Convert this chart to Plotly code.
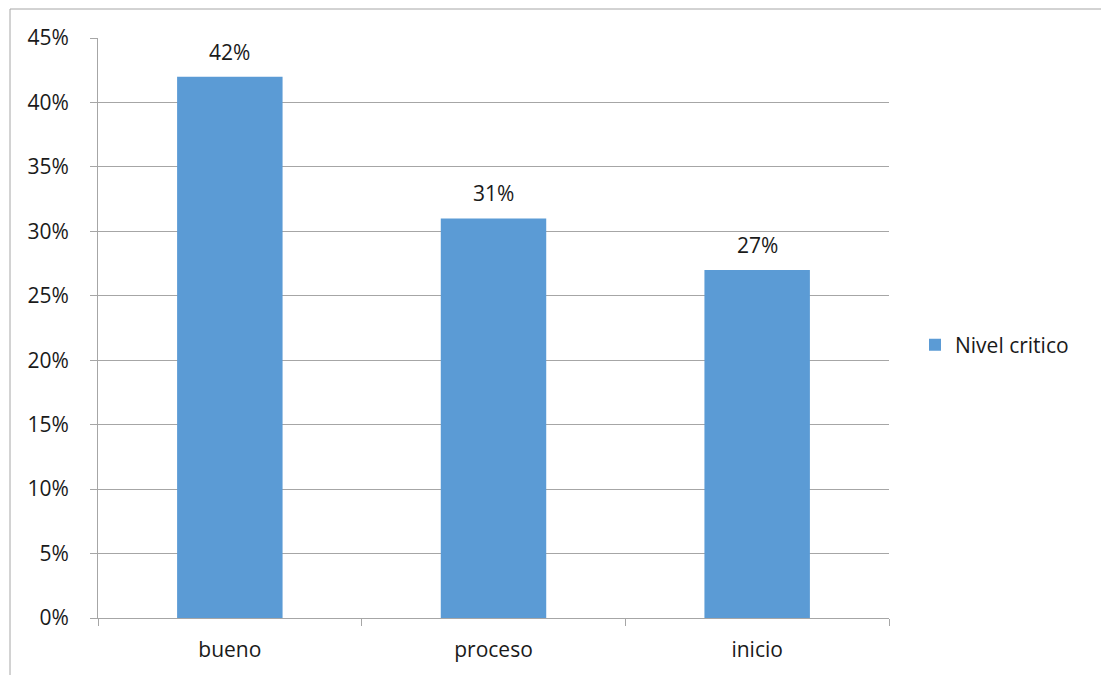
import plotly.graph_objects as go

categories = ["bueno", "proceso", "inicio"]
values = [0.42, 0.31, 0.27]
labels = ["42%", "31%", "27%"]
series_name = "Nivel critico"

# page body has an 8px margin; figure is sized/shifted to compensate
OFF = 8
W, H = 1109 - OFF, 675 - OFF
L, R, T, B = 98, 889, 38, 618          # plot area in screen pixels
pw, ph = R - L, B - T

def px(sx):
    return (sx - L) / pw

def py(sy):
    return (B - sy) / ph

FONT = "Open Sans, Noto Sans, sans-serif"
GRID = "#A6A6A6"
TXT = "#1a1a1a"

fig = go.Figure()
fig.add_trace(go.Bar(
    x=categories, y=values, name=series_name,
    marker=dict(color="#5B9BD5", line=dict(width=0)),
    showlegend=True,
))

for c, v, t in zip(categories, values, labels):
    fig.add_annotation(x=c, y=v, text=t, showarrow=False, xref="x", yref="y",
                       yanchor="middle", yshift=25,
                       font=dict(size=21, color=TXT, family=FONT))

fig.update_layout(
    width=W, height=H,
    margin=dict(l=L - OFF, r=W - (R - OFF), t=T - OFF, b=H - (B - OFF), pad=0),
    paper_bgcolor="white", plot_bgcolor="white",
    font=dict(family=FONT, size=21, color=TXT),
    bargap=0.6,
    showlegend=True,
    legend=dict(x=px(915), y=py(345), xanchor="left", yanchor="middle",
                font=dict(size=21), bgcolor="rgba(0,0,0,0)"),
    xaxis=dict(type="category", showgrid=False, showline=True, linecolor=GRID,
               linewidth=1, ticks="outside", tickson="boundaries", ticklen=7,
               tickcolor=GRID, tickfont=dict(size=21), ticklabelstandoff=13,
               fixedrange=True),
    yaxis=dict(range=[0, 0.45], dtick=0.05, tickformat=".0%", showgrid=True,
               gridcolor=GRID, gridwidth=1, showline=True, linecolor=GRID,
               ticks="outside", ticklen=7, tickcolor=GRID, zeroline=False,
               tickfont=dict(size=21), ticklabelstandoff=17, fixedrange=True),
    shapes=[
        dict(type="line", xref="paper", yref="paper", x0=px(10), x1=px(1109 + 20),
             y0=py(9), y1=py(9), line=dict(color=GRID, width=1)),
        dict(type="line", xref="paper", yref="paper", x0=px(10), x1=px(10),
             y0=py(9), y1=py(675 + 20), line=dict(color=GRID, width=1)),
    ],
)

fig.write_html("out.html")
